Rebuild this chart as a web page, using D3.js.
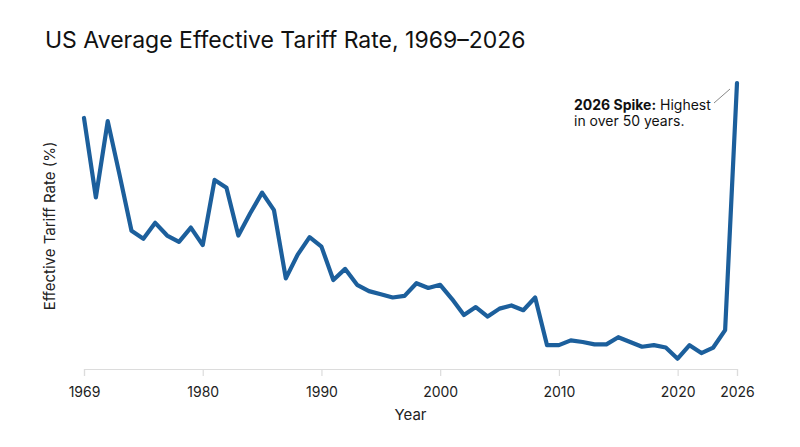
<!DOCTYPE html>
<html>
<head>
<meta charset="utf-8">
<script src="https://cdn.jsdelivr.net/npm/d3@7/dist/d3.min.js"></script>
<style>
  html, body { margin: 0; padding: 0; background: #fff; }
  svg { display: block; font-family: Inter, "Noto Sans", sans-serif; }
</style>
</head>
<body>
<svg id="chart" width="800" height="447"></svg>
<script>
// ---- data ----
const years = [1969, 1971, 1972, 1973, 1974, 1975, 1976, 1977, 1978, 1979,
  1980, 1981, 1982, 1983, 1984, 1985, 1986, 1987, 1988, 1989,
  1990, 1991, 1992, 1993, 1994, 1995, 1996, 1997, 1998, 1999,
  2000, 2001, 2002, 2003, 2004, 2005, 2006, 2007, 2008, 2009,
  2010, 2011, 2012, 2013, 2014, 2015, 2016, 2017, 2018, 2019,
  2020, 2021, 2022, 2023, 2024, 2026];
const rates = [15.8, 10.8, 15.6, 12.2, 8.7, 8.2, 9.2, 8.4, 8.0, 8.9,
  7.8, 11.9, 11.4, 8.4, 9.8, 11.1, 10.0, 5.7, 7.2, 8.3,
  7.7, 5.6, 6.3, 5.3, 4.9, 4.7, 4.5, 4.6, 5.4, 5.1,
  5.3, 4.4, 3.4, 3.9, 3.3, 3.8, 4.0, 3.7, 4.5, 1.5,
  1.5, 1.8, 1.7, 1.55, 1.55, 2.0, 1.7, 1.4, 1.5, 1.35,
  0.65, 1.5, 1.0, 1.35, 2.45, 18.0];
const tickYears = [1969, 1980, 1990, 2000, 2010, 2020, 2026];
const titleText = "US Average Effective Tariff Rate, 1969–2026";
const xLabel = "Year";
const yLabel = "Effective Tariff Rate (%)";
const noteBold = "2026 Spike:";
const noteRest = " Highest";
const noteLine2 = "in over 50 years.";

// ---- layout ----
const svg = d3.select("#chart");
const mLeft = 84, mRight = 737, mTop = 83, mBottom = 369;

const x = d3.scalePoint().domain(years).range([mLeft, mRight]).padding(0);
const y = d3.scaleLinear().domain([0, 18]).range([mBottom, mTop]);

// title
svg.append("text")
  .attr("x", 45).attr("y", 48.3)
  .attr("font-size", 23).attr("fill", "#111")
  .text(titleText);

// x axis
const xAxis = d3.axisBottom(x)
  .tickValues(tickYears)
  .tickSize(7)
  .tickPadding(11)
  .tickFormat(d => String(d));
const gx = svg.append("g")
  .attr("transform", `translate(0,${mBottom})`)
  .call(xAxis);
gx.select(".domain").attr("stroke", "#dcdcdc").attr("stroke-width", 1.2);
gx.selectAll(".tick line").attr("stroke", "#dcdcdc").attr("stroke-width", 1.2);
gx.selectAll(".tick text")
  .attr("font-size", 14).attr("fill", "#222")
  .attr("font-family", "Inter, 'Noto Sans', sans-serif");

// axis labels
svg.append("text")
  .attr("x", (mLeft + mRight) / 2).attr("y", 420)
  .attr("text-anchor", "middle")
  .attr("font-size", 15).attr("fill", "#222")
  .text(xLabel);

svg.append("text")
  .attr("transform", `translate(55,${(mTop + mBottom) / 2}) rotate(-90)`)
  .attr("text-anchor", "middle")
  .attr("font-size", 15).attr("fill", "#222")
  .text(yLabel);

// line
const line = d3.line()
  .x((d, i) => x(years[i]))
  .y(d => y(d));
svg.append("path")
  .datum(rates)
  .attr("d", line)
  .attr("fill", "none")
  .attr("stroke", "#1c5f9c")
  .attr("stroke-width", 4.2)
  .attr("stroke-linejoin", "round")
  .attr("stroke-linecap", "round");

// annotation
const lastX = x(years[years.length - 1]);
const lastY = y(rates[rates.length - 1]);
svg.append("line")
  .attr("x1", lastX - 7).attr("y1", lastY + 6)
  .attr("x2", lastX - 23).attr("y2", lastY + 20)
  .attr("stroke", "#888").attr("stroke-width", 1);

const note = svg.append("text")
  .attr("x", 574).attr("y", 109.5)
  .attr("font-size", 14).attr("fill", "#111");
note.append("tspan").attr("font-weight", 700).text(noteBold);
note.append("tspan").attr("font-weight", 400).text(noteRest);
svg.append("text")
  .attr("x", 574).attr("y", 125.5)
  .attr("font-size", 14).attr("fill", "#111")
  .text(noteLine2);
</script>
</body>
</html>
